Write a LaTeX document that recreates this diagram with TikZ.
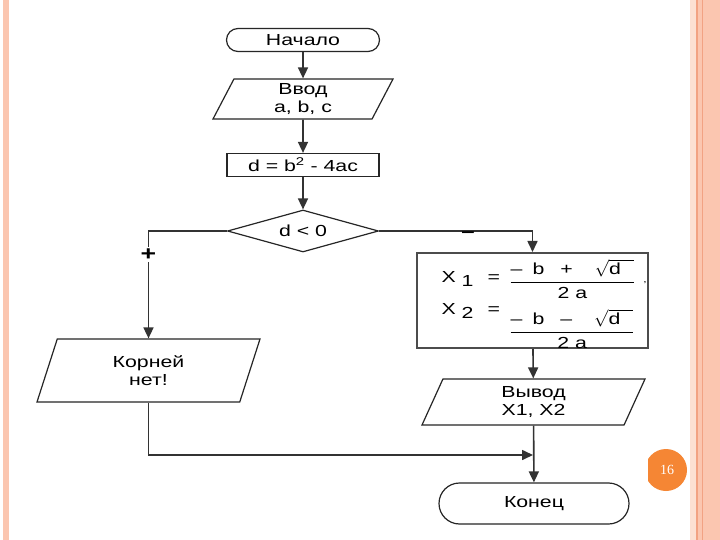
\documentclass[tikz,border=0pt]{standalone}
\usepackage{fontspec}
\setmainfont[FakeStretch=1.33]{Liberation Sans}
\newfontfamily\pagefont{Liberation Serif}
\usetikzlibrary{shapes.geometric,shapes.misc,arrows.meta}
\definecolor{framepeach}{HTML}{FBC6B0}
\definecolor{framelight}{HTML}{FCE0D3}
\definecolor{frameline}{HTML}{F2A283}
\definecolor{pageorange}{HTML}{F58634}

\begin{document}
\begin{tikzpicture}[x=1bp,y=-1bp,font=\fontsize{16bp}{18bp}\selectfont,
term/.style={rounded rectangle, draw=black!85, line width=1.2bp, fill=white, minimum width=153bp, minimum height=23bp, inner sep=0pt},
io/.style={trapezium, trapezium left angle=56, trapezium right angle=124, trapezium stretches body, draw=black!85, line width=1.2bp, align=center, inner sep=0pt},
proc/.style={rectangle, draw=black!85, line width=1.2bp, minimum width=152bp, minimum height=23bp, inner sep=0pt},
cond/.style={diamond, aspect=3.6, draw=black!85, line width=1.2bp, minimum width=151bp, minimum height=42bp, inner sep=0pt},
arr/.style={draw=black!80, line width=1.6bp, -{Triangle[length=11bp,width=10bp]}},
lab/.style={fill=white, inner sep=2pt, font=\bfseries\fontsize{20bp}{20bp}\selectfont}]

\useasboundingbox (0,0) rectangle (720,540);
\fill[white] (0,0) rectangle (720,540);
\fill[framepeach] (3,0) rectangle (9,540);
\fill[framelight] (690,0) rectangle (696,540);
\fill[frameline] (696,0) rectangle (698,540);
\fill[framepeach] (698,0) rectangle (720,540);
\draw[frameline, line width=1bp] (702.5,0) -- (702.5,540);

\node[term] at (303,40) (start) {Начало};
\node[io, minimum width=180bp, minimum height=40bp] at (303,99) (inp) {Ввод\\a, b, c};
\node[proc] at (303,165) (calc) {d = b\textsuperscript{2} - 4ac};
\node[cond] at (303,231) (check) {d \textless{} 0};

\node[io, minimum width=223bp, minimum height=63bp] at (148.5,370.5) (noroots) {Корней\\нет!};

\node[rectangle, draw=black!70, line width=2bp, minimum width=231bp, minimum height=95bp] at (532.5,300.5) (roots) {};
\node[anchor=west] at (438,279) (x1) {X\hspace{6bp}\raisebox{-4bp}{1}\hspace{14bp}=};
\node[anchor=west] at (506,279) (f1) {$\displaystyle\frac{\mbox{–\hspace{10bp}b\hspace{16bp}+\hspace{22bp}}\sqrt{\mbox{d\hspace{13bp}}}}{\mbox{2 a}}$};
\node[inner sep=0pt, font=\fontsize{9bp}{9bp}\selectfont] at (645,283) (comma) {,};
\node[anchor=west] at (438,311) (x2) {X\hspace{6bp}\raisebox{-4bp}{2}\hspace{14bp}=};
\node[anchor=west] at (506,329) (f2) {$\displaystyle\frac{\mbox{–\hspace{10bp}b\hspace{16bp}–\hspace{22bp}}\sqrt{\mbox{d\hspace{13bp}}}}{\mbox{2 a}}$};

\node[io, minimum width=223bp, minimum height=46bp] at (533.5,402) (outp) {Вывод\\X1, X2};
\node[term, minimum width=190bp, minimum height=41bp] at (534,503.5) (finish) {Конец};
\coordinate (join) at (533,455);

\draw[arr] (start) -- (inp);
\draw[arr] (inp) -- (calc);
\draw[arr] (calc) -- (check);
\draw[arr] (check.west) -| node[lab, pos=0.61] {+} (noroots.north);
\draw[arr] (check.east) -| node[pos=0.29, inner sep=0pt, yshift=-4bp, font=\bfseries\fontsize{18bp}{18bp}\selectfont] {–} (roots.north);
\draw[arr] (roots) -- (outp);
\draw[arr] (outp) -- (finish);
\draw[arr] (noroots.south) |- (join);

\begin{scope}
\clip (648,440) rectangle (690,500);
\fill[pageorange] (666,470) circle (21);
\end{scope}
\node[text=white, font=\pagefont\fontsize{14bp}{14bp}\selectfont] at (667,470) (pagenum) {16};
\end{tikzpicture}
\end{document}
